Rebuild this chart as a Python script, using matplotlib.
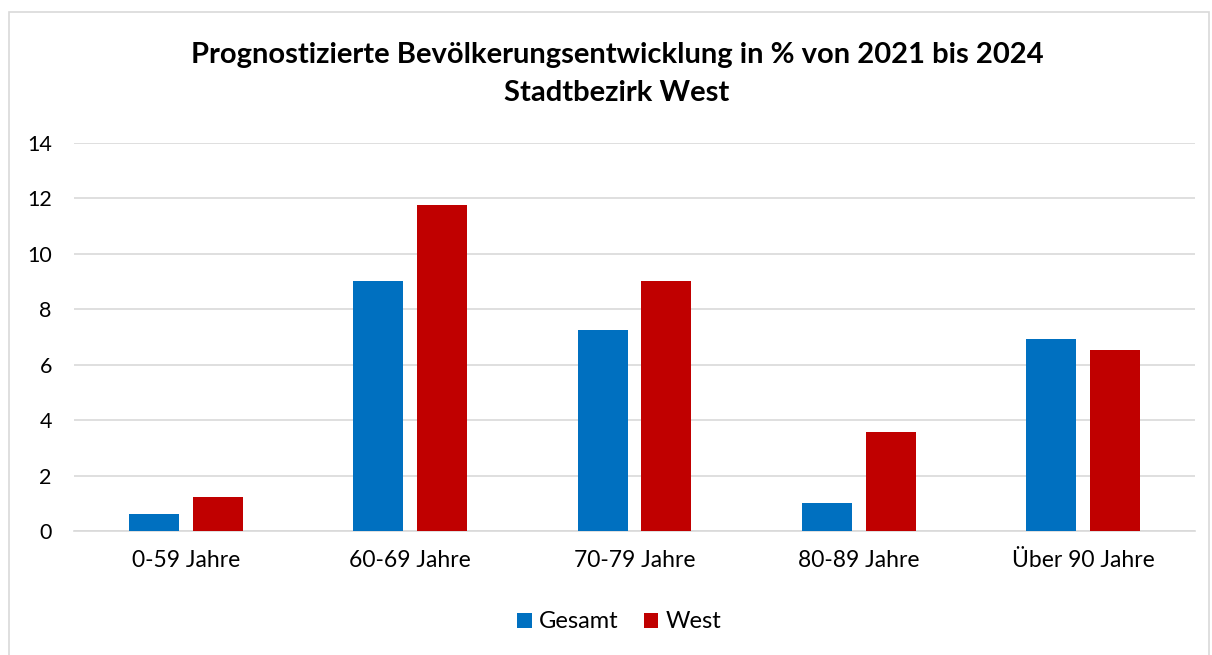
import numpy as np
import matplotlib
matplotlib.use("Agg")
import matplotlib.pyplot as plt
from matplotlib.patches import Rectangle

plt.rcParams["font.family"] = ["Lato", "DejaVu Sans"]

categories = ["0-59 Jahre", "60-69 Jahre", "70-79 Jahre", "80-89 Jahre", "Über 90 Jahre"]
gesamt = [0.61, 9.02, 7.24, 1.02, 6.92]
west = [1.24, 11.76, 9.03, 3.56, 6.52]
yticks = [0, 2, 4, 6, 8, 10, 12, 14]

BLUE = "#0070C0"
RED = "#C00000"
GRID = "#D9D9D9"

W, H = 1212, 655
fig = plt.figure(figsize=(W / 100, H / 100), dpi=100)
ax = fig.add_axes([74 / W, 1 - 531 / H, (1195 - 74) / W, (531 - 143) / H])

# chart frame
fig.patches.append(Rectangle((9 / W, -0.01), (1209 - 9) / W, 1 - 12 / H + 0.01,
                             transform=fig.transFigure, fill=False,
                             edgecolor=GRID, linewidth=1.2))

x = np.arange(len(categories))
bw = 0.223
off = 0.142
ax.bar(x - off, gesamt, bw, color=BLUE, label="Gesamt", zorder=3)
ax.bar(x + off, west, bw, color=RED, label="West", zorder=3)

ax.set_xlim(-0.5, len(categories) - 0.5)
ax.set_ylim(0, 14)
ax.set_yticks(yticks)
ax.set_xticks(x)
ax.set_xticklabels(categories)
ax.tick_params(axis="both", length=0, colors="#000000")
ax.tick_params(axis="y", pad=16, labelsize=15.5)
ax.tick_params(axis="x", pad=14, labelsize=16.5)
ax.grid(axis="y", color=GRID, linewidth=1.2, zorder=0)
for s in ["left", "right", "top"]:
    ax.spines[s].set_visible(False)
ax.spines["bottom"].set_color(GRID)
ax.spines["bottom"].set_linewidth(1.2)

fig.text(0.509, 1 - 55 / H, "Prognostizierte Bevölkerungsentwicklung in % von 2021 bis 2024",
         ha="center", va="center", fontsize=21, fontweight="bold")
fig.text(0.509, 1 - 93 / H, "Stadtbezirk West",
         ha="center", va="center", fontsize=21, fontweight="bold")

fig.legend(loc="center", bbox_to_anchor=(0.511, 1 - 622 / H), ncol=2, frameon=False,
           fontsize=17, handlelength=0.6, handleheight=0.6, handletextpad=0.3,
           columnspacing=1.1)

fig.savefig("out.png", dpi=100)
